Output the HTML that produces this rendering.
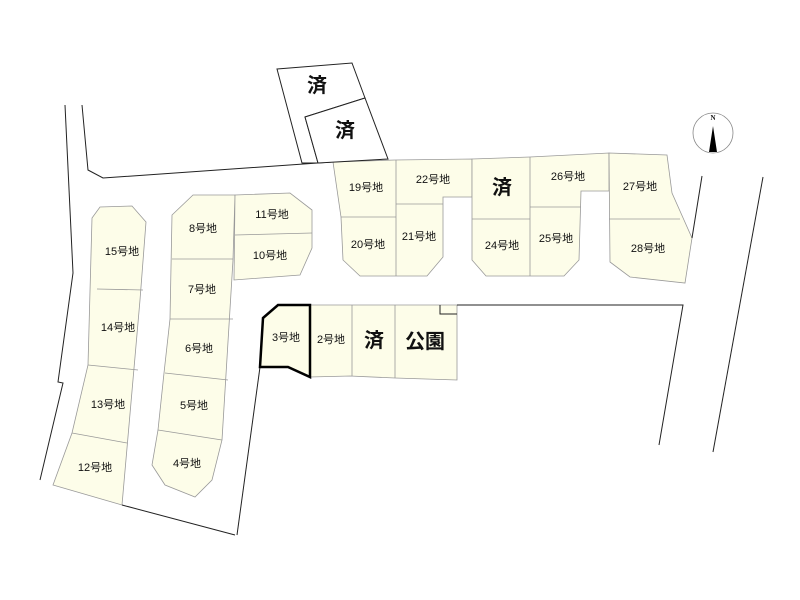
<!DOCTYPE html>
<html><head><meta charset="utf-8"><style>
html,body{margin:0;padding:0;background:#fff;}
svg{display:block;}
text{font-family:"Liberation Sans","Noto Sans CJK JP",sans-serif;fill:#111;text-anchor:middle;dominant-baseline:central;}
.l{font-size:11px;}
.b{font-size:20px;font-weight:bold;}
</style></head><body>
<svg width="800" height="600" viewBox="0 0 800 600" xmlns="http://www.w3.org/2000/svg">
<g fill="#fdfde9" stroke="#999" stroke-width="0.8">
<polygon points="100,207 132,206 146,222 140,300 122,505 53,485 72,433 88,365 92,218"/>
<line x1="97" y1="289" x2="143" y2="290"/>
<line x1="88" y1="365" x2="138" y2="370"/>
<line x1="72" y1="433" x2="127" y2="443"/>
<polygon points="172,215 193,195 235,195 233,260 222,440 212,480 195,497 165,485 152,465 158,430 164,373 170,319"/>
<line x1="172" y1="259" x2="233" y2="259"/>
<line x1="170" y1="319" x2="233" y2="319"/>
<line x1="165" y1="373" x2="228" y2="380"/>
<line x1="158" y1="430" x2="222" y2="440"/>
<polygon points="235,195 290,193 312,210 312,248 300,275 234,280"/>
<line x1="235" y1="235" x2="312" y2="233"/>
<polygon points="333,162 395,160 472,159 472,197 443,197 443,257 427,276 396,276 360,276 343,260 341,217"/>
<line x1="396" y1="160" x2="396" y2="276"/>
<line x1="341" y1="217" x2="396" y2="217"/>
<line x1="396" y1="204" x2="443" y2="204"/>
<polygon points="472,159 530,157 609,153 609,191 581,191 579,260 564,276 486,276 472,260"/>
<line x1="530" y1="157" x2="530" y2="276"/>
<line x1="472" y1="219" x2="530" y2="219"/>
<line x1="530" y1="207" x2="581" y2="207"/>
<polygon points="609,153 667,155 672,193 692,238 685,283 630,277 610,262"/>
<line x1="609" y1="219" x2="680" y2="219"/>
<polygon points="310,305 457,305 457,380 395,378 350,376 310,377"/>
<line x1="352" y1="305" x2="352" y2="376"/>
<line x1="395" y1="305" x2="395" y2="378"/>
</g>
<g fill="none" stroke="#222" stroke-width="1">
<polyline points="440,305 440,314 457,314"/>
<polyline points="65,105 73,273 58,382 63,383 40,480"/>
<polyline points="82,105 88,170 103,178 332,162"/>
<polyline points="122,505 235,535"/>
<polyline points="237,535 260,367"/>
<polyline points="457,305 683,305 659,445"/>
<line x1="763" y1="177" x2="713" y2="452"/>
<line x1="702" y1="176" x2="692" y2="238"/>
</g>
<g fill="#fff" stroke="#222" stroke-width="1">
<polygon points="277,69 352,63 365,98 305,117 318,163 302,163"/>
<polygon points="305,117 365,98 388,159 318,163"/>
</g>
<polygon points="263,318 278,305 310,305 310,377 288,367 260,367" fill="#fdfde9" stroke="#000" stroke-width="2.5"/>
<circle cx="713" cy="133" r="20" fill="#fff" stroke="#888" stroke-width="0.8"/>
<polygon points="713,126 709,152 717,152" fill="#000"/>
<text x="713" y="118" style="font-size:7px;font-family:'Liberation Serif',serif;font-weight:bold">N</text>
<g class="l">
<text x="366" y="188">19号地</text><text x="433" y="180">22号地</text>
<text x="568" y="177">26号地</text><text x="640" y="187">27号地</text>
<text x="368" y="245">20号地</text><text x="419" y="237">21号地</text>
<text x="502" y="246">24号地</text><text x="556" y="239">25号地</text>
<text x="648" y="249">28号地</text>
<text x="272" y="215">11号地</text><text x="270" y="256">10号地</text>
<text x="203" y="229">8号地</text><text x="202" y="290">7号地</text>
<text x="199" y="349">6号地</text><text x="194" y="406">5号地</text>
<text x="187" y="464">4号地</text>
<text x="122" y="252">15号地</text><text x="118" y="328">14号地</text>
<text x="108" y="405">13号地</text><text x="95" y="468">12号地</text>
<text x="286" y="338">3号地</text><text x="331" y="340">2号地</text>
</g>
<g class="b">
<text x="502" y="188">済</text>
<text x="374" y="341">済</text>
<text x="425" y="342">公園</text>
<text x="317" y="86">済</text>
<text x="345" y="131">済</text>
</g>
</svg>
</body></html>
